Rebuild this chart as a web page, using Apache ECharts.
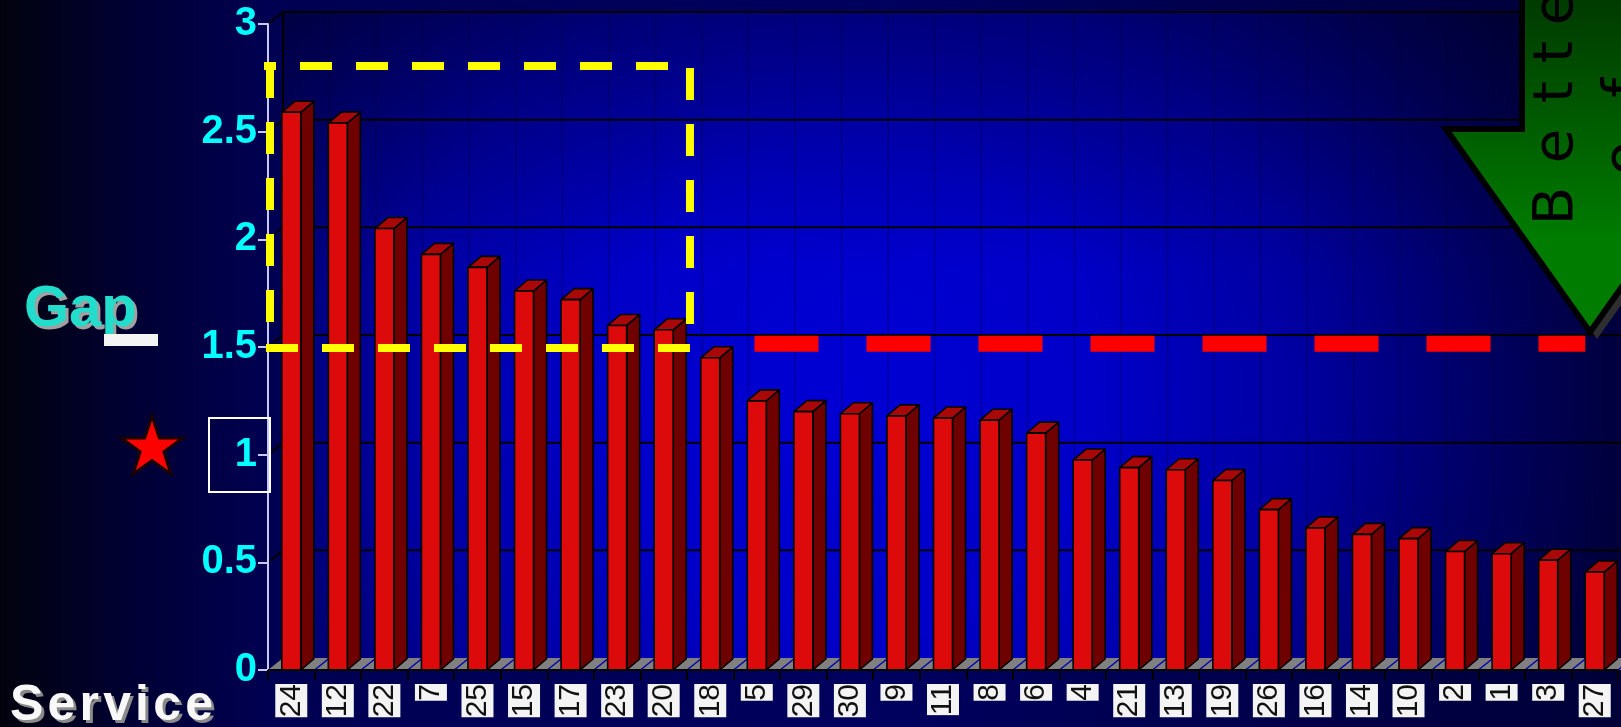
<!DOCTYPE html>
<html>
<head>
<meta charset="utf-8">
<script src="https://cdn.jsdelivr.net/npm/echarts/dist/echarts.min.js"></script>
<style>
html, body { margin: 0; padding: 0; }
body { background: linear-gradient(to right, #02020e 0px, #000036 140px, #000052 270px, #00005e 900px, #000038 1621px); }
#main { width: 1621px; height: 727px; }
</style>
</head>
<body>
<div id="main"></div>
<script>
var categories = ['24', '12', '22', '7', '25', '15', '17', '23', '20', '18', '5', '29', '30', '9', '11',
    '8', '6', '4', '21', '13', '19', '26', '16', '14', '10', '2', '1', '3', '27'];
var gapValues = [2.59, 2.54, 2.05, 1.93, 1.87, 1.76, 1.72, 1.60, 1.58, 1.45, 1.25, 1.20, 1.19, 1.18, 1.17,
    1.16, 1.10, 0.975, 0.94, 0.93, 0.88, 0.745, 0.66, 0.63, 0.61, 0.55, 0.54, 0.51, 0.455];
var yTicks = [0.5, 1, 1.5, 2, 2.5, 3];
var boxFrom = 0, boxTo = 8, boxLow = 1.5, boxHigh = 2.8;
var targetFrom = 10, targetTo = 28, targetLevel = 1.515;

var chart = echarts.init(document.getElementById('main'));

var DX = 15, DY = -12;   // depth of back wall
var BX = 13, BY = -11;   // depth of bars
var HALF = 9.5;

function edge(fill) {
    return { fill: fill, stroke: '#000', lineWidth: 1.6, lineJoin: 'round' };
}

// back wall, floor and wall lines
function renderWall(params, api) {
    var band = api.size([1, 0])[0];
    var n = categories.length;
    var c0 = api.coord([0, 0]);
    var x0 = c0[0] - band / 2, yBase = c0[1];
    var yTop = api.coord([0, 3])[1];
    var x1 = x0 + band * n;
    var right = x1 + DX + 40;
    var wallRect = { x: x0 + DX, y: yTop + DY, width: right - x0 - DX, height: yBase - yTop };
    var kids = [];
    kids.push({
        type: 'rect', shape: wallRect,
        style: { fill: new echarts.graphic.RadialGradient(x0 + 582, yTop + 366, 820, [
            { offset: 0, color: '#0000d4' }, { offset: 0.3, color: '#0000c8' },
            { offset: 0.55, color: '#0000a0' }, { offset: 0.8, color: '#00005c' },
            { offset: 1, color: '#000030' }], true) }
    });
    kids.push({
        type: 'rect', shape: wallRect,
        style: { fill: new echarts.graphic.LinearGradient(0, yTop + DY, 0, yTop + 240, [
            { offset: 0, color: 'rgba(0,0,30,0.35)' }, { offset: 1, color: 'rgba(0,0,30,0)' }], true) }
    });
    for (var k = 1; k <= n; k++) {
        var xv = x0 + k * band + DX;
        kids.push({ type: 'line', shape: { x1: xv, y1: yTop + DY, x2: xv, y2: yBase + DY },
            style: { stroke: 'rgba(0,0,50,0.22)', lineWidth: 2 } });
    }
    kids.push({ type: 'line', shape: { x1: x0 + DX, y1: yTop + DY, x2: x0 + DX, y2: yBase + DY },
        style: { stroke: '#000', lineWidth: 2 } });
    kids.push({ type: 'polygon',
        shape: { points: [[x0, yBase], [x1 + 40, yBase], [x1 + 40 + DX, yBase + DY], [x0 + DX, yBase + DY]] },
        style: { fill: '#808080' } });
    for (var j = 1; j <= n; j++) {
        var xf = x0 + j * band;
        kids.push({ type: 'line', shape: { x1: xf, y1: yBase, x2: xf + DX, y2: yBase + DY },
            style: { stroke: '#0000b0', lineWidth: 1.5 } });
    }
    return { type: 'group', children: kids };
}

function renderGridLine(params, api) {
    var band = api.size([1, 0])[0];
    var p = api.coord([0, api.value(1)]);
    var x0 = p[0] - band / 2;
    return {
        type: 'polyline',
        shape: { points: [[x0, p[1]], [x0 + DX, p[1] + DY], [x0 + DX + band * categories.length + 60, p[1] + DY]] },
        style: { stroke: '#000', lineWidth: 2, fill: null }
    };
}

function renderBar(params, api) {
    var top = api.coord([api.value(0), api.value(1)]);
    var base = api.coord([api.value(0), 0]);
    var xl = top[0] - HALF, xr = top[0] + HALF;
    return { type: 'group', children: [
        { type: 'polygon', shape: { points: [[xr, top[1]], [xr + BX, top[1] + BY], [xr + BX, base[1] + BY], [xr, base[1]]] },
            style: edge('#6e0000') },
        { type: 'polygon', shape: { points: [[xl, top[1]], [xl + BX, top[1] + BY], [xr + BX, top[1] + BY], [xr, top[1]]] },
            style: edge('#a90808') },
        { type: 'rect', shape: { x: xl, y: top[1], width: 2 * HALF, height: base[1] - top[1] },
            style: edge('#dc0a0a') }
    ] };
}

function renderBox(params, api) {
    var band = api.size([1, 0])[0];
    var lo = api.coord([api.value(0), api.value(2)]);
    var hi = api.coord([api.value(1), api.value(3)]);
    var xl = lo[0] - band / 2, xr = hi[0] + band / 2 + 3;
    var yb = lo[1] + 1, yt = hi[1] - 1;
    function dash(a, b, c, d, off) {
        return { type: 'line', shape: { x1: a, y1: b, x2: c, y2: d },
            style: { stroke: '#ffff00', lineWidth: 8, lineDash: [32, 24], lineDashOffset: off || 0 } };
    }
    return { type: 'group', children: [
        dash(xl - 4, yt, xr, yt, 20),
        dash(xl + 2, yt, xl + 2, yb, 0),
        dash(xr, yt + 2, xr, yb, 0),
        dash(xr, yb, xl - 10, yb, 0)
    ] };
}

function renderTarget(params, api) {
    var band = api.size([1, 0])[0];
    var a = api.coord([api.value(0), api.value(2)]);
    var b = api.coord([api.value(1), api.value(2)]);
    return { type: 'line', shape: { x1: a[0] - band / 2 + 21, y1: a[1], x2: b[0] - HALF, y2: b[1] },
        style: { stroke: '#ff0000', lineWidth: 16, lineDash: [64, 48] } };
}

var starPts = [];
for (var i = 0; i < 10; i++) {
    var r = i % 2 ? 12.5 : 32;
    var ang = -Math.PI / 2 + i * Math.PI / 5;
    starPts.push([152 + r * Math.cos(ang), 448 + r * Math.sin(ang)]);
}

var arrowPts = [[1522, -20], [1522, 129], [1446, 129], [1590, 332], [1734, 129], [1658, 129], [1658, -20]];
var arrowShadow = arrowPts.map(function (p) { return [p[0] + 7, p[1] + 7]; });

function letter(ch, x, y) {
    return { type: 'text', x: x, y: y, rotation: Math.PI / 2, z: 102,
        style: { text: ch, font: '56px "DejaVu Sans"', fill: '#000', textAlign: 'center', textVerticalAlign: 'middle' } };
}

var option = {
    animation: false,
    grid: { left: 268, right: 3, top: 24, bottom: 57, outerBoundsMode: 'none' },
    xAxis: {
        type: 'category',
        data: categories,
        z: 6,
        axisLine: { show: true, lineStyle: { color: '#000', width: 2 } },
        axisTick: { show: true, length: 10, lineStyle: { color: '#000', width: 2 } },
        axisLabel: {
            interval: 0, rotate: 90, margin: 14,
            color: '#111', fontSize: 30, fontFamily: 'Liberation Sans',
            backgroundColor: '#f4f4f4', lineHeight: 32, padding: [0, 0]
        },
        splitLine: { show: false }
    },
    yAxis: {
        type: 'value', min: 0, max: 3, interval: 0.5,
        z: 6,
        axisLine: { show: true, lineStyle: { color: '#c8c8f8', width: 2 } },
        axisTick: { show: true, length: 10, lineStyle: { color: '#c8c8f8', width: 2 } },
        axisLabel: { color: '#00ffff', fontSize: 40, fontWeight: 'bold', fontFamily: 'Liberation Sans', margin: 11 },
        splitLine: { show: false }
    },
    series: [
        { type: 'custom', name: 'wall', z: 1, clip: false, silent: true,
            renderItem: renderWall, data: [[0, 0]] },
        { type: 'custom', name: 'grid', z: 2, clip: false, silent: true,
            renderItem: renderGridLine, data: yTicks.map(function (v) { return [0, v]; }) },
        { type: 'custom', name: 'Gap', z: 3, clip: false,
            renderItem: renderBar, data: gapValues.map(function (v, i) { return [i, v]; }) },
        { type: 'custom', name: 'box', z: 8, clip: false, silent: true,
            renderItem: renderBox, data: [[boxFrom, boxTo, boxLow, boxHigh]] },
        { type: 'custom', name: 'target', z: 8, clip: false, silent: true,
            renderItem: renderTarget, data: [[targetFrom, targetTo, targetLevel]] }
    ],
    graphic: { elements: [
        { type: 'text', x: 27, y: 313, z: 100, style: { text: 'Gap', font: 'bold 58px "Liberation Sans"', fill: '#a0a0a0', textVerticalAlign: 'middle' } },
        { type: 'text', x: 24, y: 310, z: 101, style: { text: 'Gap', font: 'bold 58px "Liberation Sans"', fill: '#22dccc', textVerticalAlign: 'middle' } },
        { type: 'rect', z: 102, shape: { x: 104, y: 334, width: 54, height: 12 }, style: { fill: '#f4f4f4' } },
        { type: 'polygon', z: 100, shape: { points: starPts }, style: { fill: '#ff0000', stroke: '#1a0000', lineWidth: 3, lineJoin: 'miter' } },
        { type: 'rect', z: 100, shape: { x: 209, y: 418, width: 61, height: 74 }, style: { fill: null, stroke: '#ffffff', lineWidth: 2 } },
        { type: 'text', x: 13, y: 709, z: 100, style: { text: 'S\u200Ae\u200Ar\u200Av\u200Ai\u200Ac\u200Ae', font: 'bold 50px "Liberation Sans"', fill: '#8a8a8a', textVerticalAlign: 'middle' } },
        { type: 'text', x: 10, y: 706, z: 101, style: { text: 'S\u200Ae\u200Ar\u200Av\u200Ai\u200Ac\u200Ae', font: 'bold 50px "Liberation Sans"', fill: '#f8f8f8', textVerticalAlign: 'middle' } },
        { type: 'polygon', z: 100, shape: { points: arrowShadow }, style: { fill: '#2e2e2e' } },
        { type: 'polygon', z: 101, shape: { points: arrowPts }, style: {
            fill: new echarts.graphic.LinearGradient(0, 0, 0, 240, [
                { offset: 0, color: '#003a00' }, { offset: 1, color: '#007c00' }], true),
            stroke: '#000', lineWidth: 6, lineJoin: 'miter' } },
        letter('B', 1557, 206), letter('e', 1557, 146), letter('t', 1557, 92),
        letter('t', 1557, 52), letter('e', 1557, 8), letter('r', 1557, -35),
        letter('o', 1627, 158), letter('f', 1627, 88)
    ] }
};

chart.setOption(option);
</script>
</body>
</html>
